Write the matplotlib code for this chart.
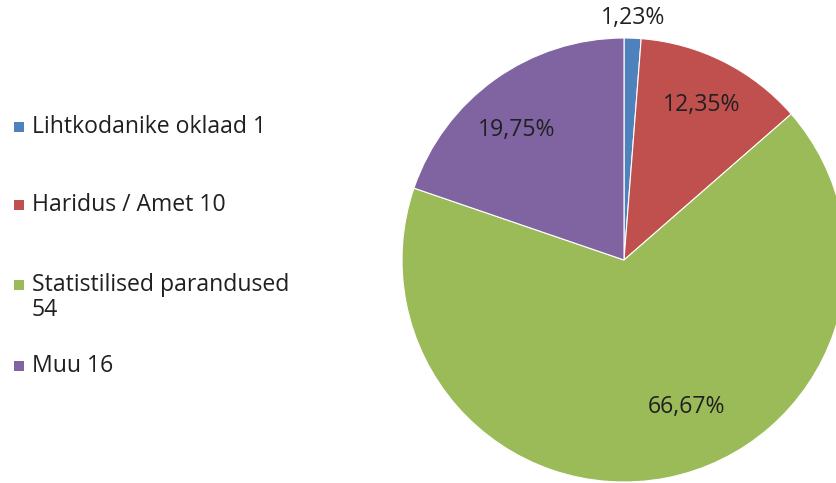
import numpy as np
import matplotlib
matplotlib.use("Agg")
import matplotlib.pyplot as plt
from matplotlib.patches import Rectangle

categories = ["Lihtkodanike oklaad 1", "Haridus / Amet 10", "Statistilised parandused\n54", "Muu 16"]
values = [1, 10, 54, 16]
colors = ["#4F81BD", "#C0504D", "#9BBB59", "#8064A2"]

W, H = 837, 483
fig = plt.figure(figsize=(W / 100, H / 100), dpi=100)
ax = fig.add_axes([0, 0, 1, 1])

font = "Open Sans"
fs = 16.6
txtcol = "#202020"
cx, cy, R = 624, H - 260, 222
wedges, texts, autotexts = ax.pie(
    values, colors=colors, startangle=90, counterclock=False,
    center=(cx, cy), radius=R, frame=True,
    autopct=lambda p: f"{p:.2f}%".replace(".", ","), pctdistance=0.76,
    wedgeprops=dict(edgecolor="white", linewidth=0.8),
    textprops=dict(fontsize=fs, color=txtcol, family=font),
)
ax.set_xlim(0, W)
ax.set_ylim(0, H)
ax.set_aspect("equal")
ax.axis("off")

# label distance adjustments (Excel best-fit style)
dist = [1.09, 0.78, 0.72, 0.76]
angoff = [0, 0, 12, 4]
for w, t, d, ao in zip(wedges, autotexts, dist, angoff):
    ang = np.deg2rad((w.theta1 + w.theta2) / 2 + ao)
    t.set_position((cx + d * R * np.cos(ang), cy + d * R * np.sin(ang)))

# legend (drawn manually to mimic Excel spacing)
row_y = [127, 205, 285, 366]
line_gap = 25
for lab, c, y in zip(categories, colors, row_y):
    yy = H - y
    ax.add_patch(Rectangle((14, yy - 5), 10, 10, facecolor=c, edgecolor="none"))
    for i, line in enumerate(lab.split("\n")):
        ax.text(32, yy - i * line_gap, line, fontsize=fs, family=font, color=txtcol,
                va="center", ha="left")

fig.savefig("out.png", dpi=100)
